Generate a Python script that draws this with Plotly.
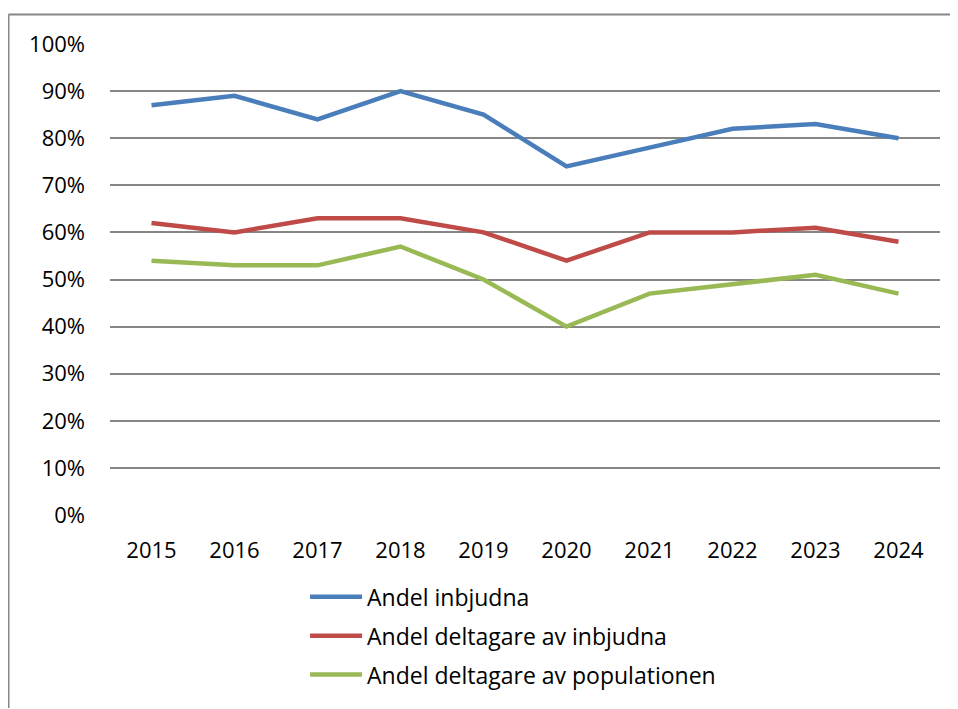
import plotly.graph_objects as go

years = ["2015", "2016", "2017", "2018", "2019", "2020", "2021", "2022", "2023", "2024"]
andel_inbjudna = [0.87, 0.89, 0.84, 0.90, 0.85, 0.74, 0.78, 0.82, 0.83, 0.80]
deltagare_av_inbjudna = [0.62, 0.60, 0.63, 0.63, 0.60, 0.54, 0.60, 0.60, 0.61, 0.58]
deltagare_av_population = [0.54, 0.53, 0.53, 0.57, 0.50, 0.40, 0.47, 0.49, 0.51, 0.47]
y_ticks = [i / 10 for i in range(11)]
y_tick_labels = [f"{i * 10}%" for i in range(11)]

series = [
    ("Andel inbjudna", andel_inbjudna, "#4A7EBB"),
    ("Andel deltagare av inbjudna", deltagare_av_inbjudna, "#BE4B48"),
    ("Andel deltagare av populationen", deltagare_av_population, "#98B954"),
]

fig = go.Figure()
for i, (name, vals, color) in enumerate(series):
    fig.add_trace(go.Scatter(x=years, y=vals, name=name, mode="lines",
                             legendgroup=f"g{i}",
                             line=dict(color=color, width=4.5)))

font_family = "Open Sans, Noto Sans, sans-serif"
fig.update_layout(
    width=950, height=701,
    margin=dict(l=102, r=18, t=36, b=194),
    paper_bgcolor="white", plot_bgcolor="white",
    font=dict(family=font_family, size=22, color="black"),
    showlegend=True,
    legend=dict(x=0.235, y=-0.128, xanchor="left", yanchor="top",
                orientation="v", font=dict(size=23, family=font_family),
                itemwidth=52, tracegroupgap=6, bgcolor="rgba(0,0,0,0)"),
    xaxis=dict(type="category", range=[-0.5, 9.5], showgrid=False, showline=False,
               zeroline=False, ticks="", ticklabelstandoff=20,
               tickfont=dict(size=22)),
    yaxis=dict(range=[0, 1], tickvals=y_ticks, ticktext=y_tick_labels,
               showgrid=True, gridcolor="#868686", gridwidth=1.6,
               zeroline=False, showline=False, ticks="", ticklabelstandoff=24,
               tickfont=dict(size=22)),
    shapes=[
        dict(type="line", xref="paper", yref="paper", x0=-0.1223, x1=1.0217,
             y0=1.0626, y1=1.0626, line=dict(color="#868686", width=2)),
        dict(type="line", xref="paper", yref="paper", x0=-0.1223, x1=-0.1223,
             y0=1.0626, y1=-0.41, line=dict(color="#868686", width=2)),
    ],
)

fig.write_html("out.html", config={"displayModeBar": False})
